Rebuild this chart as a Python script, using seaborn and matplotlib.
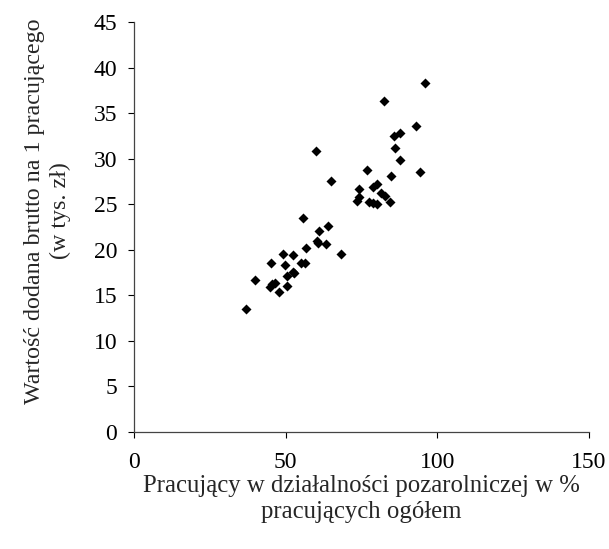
import numpy as np
import pandas as pd
import matplotlib
matplotlib.use("Agg")
import matplotlib.pyplot as plt
import seaborn as sns

# share of non-agricultural employment (%) and gross value added per worker (thous. zł)
pct_nonagri = [37.1, 39.9, 45.3, 44.8, 45.6, 46.4, 47.8, 49.1, 49.9, 50.3,
               50.5, 52.5, 52.5, 52.9, 55.1, 56.4, 55.6, 56.8, 60.0, 60.4,
               60.7, 61.1, 64.1, 63.3, 64.9, 68.1, 73.6, 74.2, 74.1, 76.9,
               77.5, 78.8, 80.1, 78.8, 80.2, 81.6, 82.7, 84.4, 82.4, 84.9,
               86.0, 85.9, 87.7, 87.7, 93.0, 94.2, 95.8]
gva_per_worker = [13.5, 16.7, 18.6, 15.9, 16.3, 16.4, 15.4, 19.5, 18.3, 17.1,
                  16.0, 19.4, 17.6, 17.4, 18.6, 18.6, 23.5, 20.2, 30.8, 21.0,
                  20.7, 22.1, 22.6, 20.6, 27.6, 19.5, 25.3, 25.8, 26.7, 28.8,
                  25.2, 25.1, 25.0, 26.9, 27.2, 26.2, 25.9, 25.2, 36.3, 28.1,
                  31.2, 32.5, 32.8, 29.8, 33.6, 28.5, 38.3]

df = pd.DataFrame({"x": pct_nonagri, "y": gva_per_worker})

sns.set_style("ticks")
plt.rcParams["font.family"] = ["Liberation Serif", "DejaVu Serif"]

fig = plt.figure(figsize=(6.09, 5.49), dpi=100)
ax = fig.add_axes([0.220, 0.213, 0.747, 0.747])

sns.scatterplot(data=df, x="x", y="y", marker="D", s=26, color="black",
                edgecolor="black", linewidth=0, ax=ax)

ax.set_xlim(0, 150)
ax.set_ylim(0, 45)
ax.set_xticks([0, 50, 100, 150])
ax.set_yticks(np.arange(0, 50, 5))
ax.tick_params(labelsize=17, length=4, width=0.8, colors="black")
ax.tick_params(axis="x", pad=10)
ax.tick_params(axis="y", pad=8)
for side in ["top", "right"]:
    ax.spines[side].set_visible(False)
for side in ["left", "bottom"]:
    ax.spines[side].set_color("#444444")
    ax.spines[side].set_linewidth(0.9)

ax.set_xlabel("Pracujący w działalności pozarolniczej w %\npracujących ogółem",
              fontsize=17.8, labelpad=2, linespacing=1.2)
ax.set_ylabel("Wartość dodana brutto na 1 pracującego\n(w tys. zł)",
              fontsize=17.3, labelpad=16, linespacing=1.35)
ax.yaxis.label.set_y(0.539)

fig.savefig("out.png", dpi=100)
